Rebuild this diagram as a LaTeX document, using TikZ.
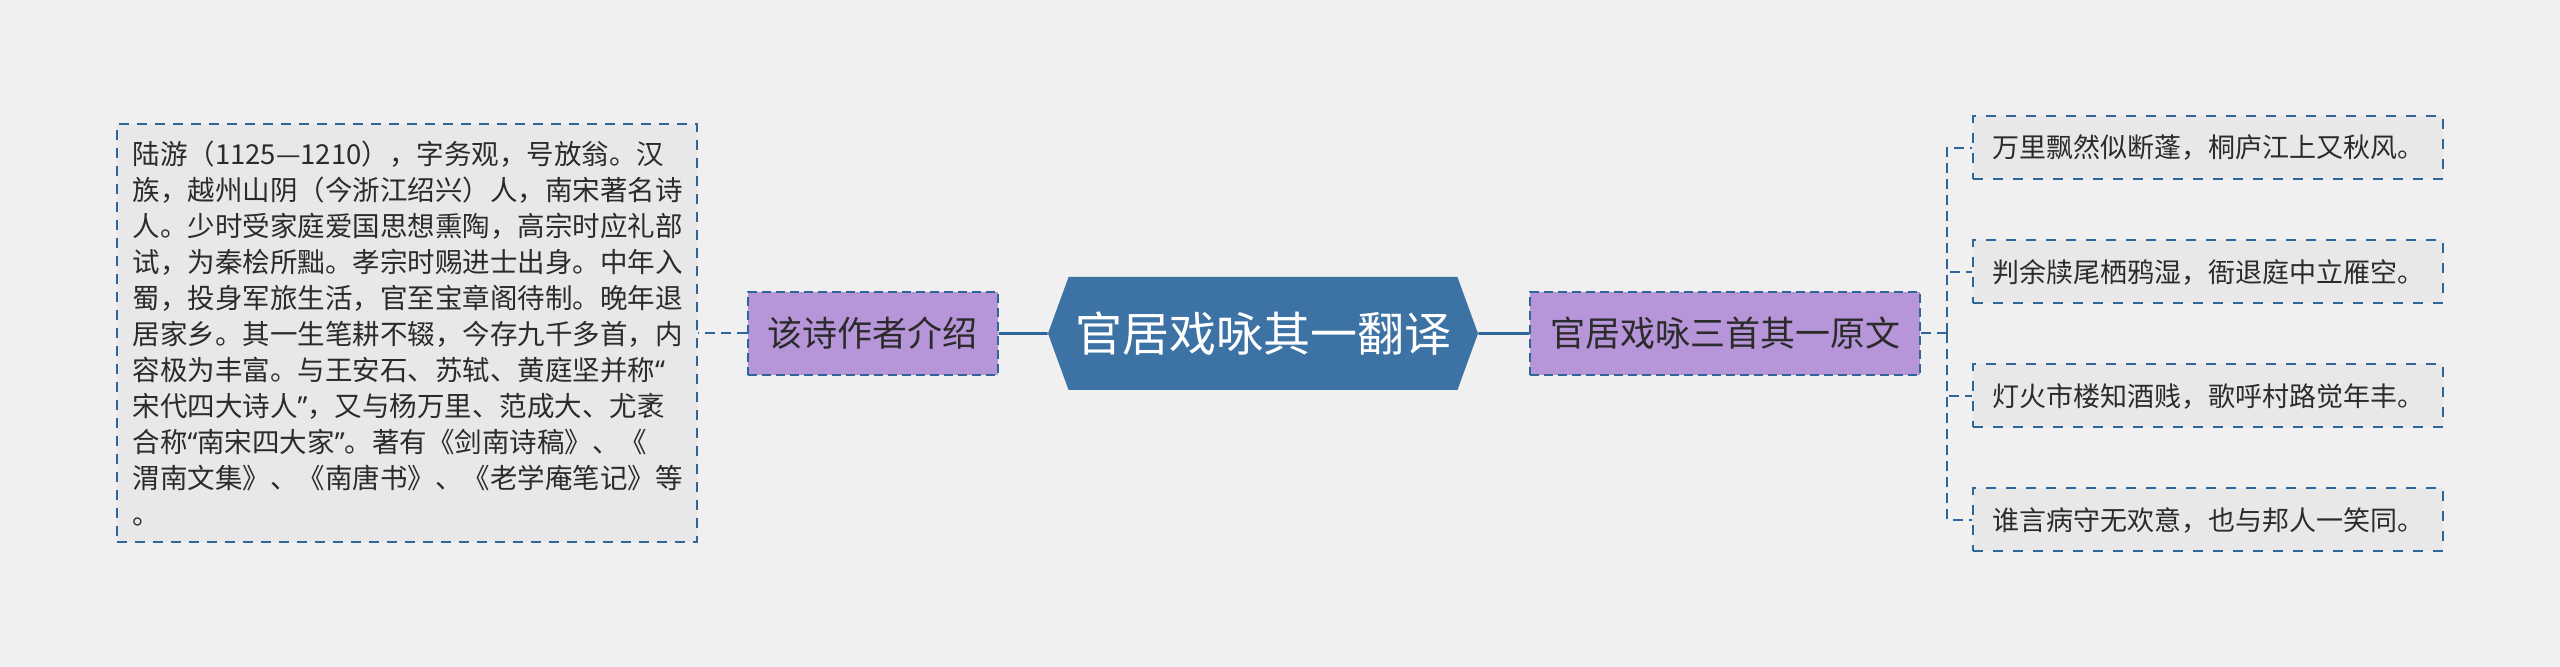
\documentclass[tikz,border=0pt]{standalone}
\usepackage{fontspec}
\usepackage{xcolor}
\usepackage{tikz}
\usetikzlibrary{positioning,shapes.symbols}
\newfontfamily\cjk{Noto Sans CJK SC}
\newfontfamily\latn{Noto Sans}
\newcommand\qopen{{\latn“}}
\newcommand\qclose{{\latn”}}
\definecolor{canvas}{HTML}{F0F0F0}
\definecolor{ink}{HTML}{2B2B2B}
\definecolor{edge}{HTML}{2F6699}
\definecolor{hexblue}{HTML}{3D72A5}
\definecolor{lilac}{HTML}{B795D9}
\definecolor{card}{HTML}{E8E8E8}

\begin{document}
\begin{tikzpicture}[
  x=0.5pt,y=-0.5pt,
  root/.style={shape=signal,signal to=west and east,signal pointer angle=140,fill=hexblue,text=white,font=\cjk\fontsize{23.5}{28}\selectfont,minimum width=215pt,minimum height=56.5pt,inner sep=0pt},
  topic/.style={draw=edge,line width=1pt,dash pattern=on 4.5pt off 2.5pt,fill=lilac,text=ink,font=\cjk\fontsize{17.5}{21}\selectfont,minimum height=41.5pt,inner xsep=10pt},
  verse/.style={draw=edge,line width=1pt,dash pattern=on 5pt off 5pt,fill=card,text=ink,font=\cjk\fontsize{13.5}{16}\selectfont,minimum width=235pt,minimum height=31.5pt},
  bio/.style={draw=edge,line width=1pt,dash pattern=on 5pt off 4pt,fill=card,text=ink,font=\cjk\fontsize{13.75}{18}\selectfont,align=left,text width=274pt,minimum height=209pt,inner xsep=8pt},
  trunk/.style={draw=edge,line width=1.4pt},
  twig/.style={draw=edge,line width=1pt,dash pattern=on 5pt off 3pt}
]
\useasboundingbox[fill=canvas] (0,0) rectangle (2560,667);
\node[root] (root) at (1263,333.5) {官居戏咏其一翻译};
\node[topic,left=24.5pt of root] (author) {该诗作者介绍};
\node[bio,left=24.5pt of author] (bio) {陆游（1125—1210），字务观，号放翁。汉\\族，越州山阴（今浙江绍兴）人，南宋著名诗\\人。少时受家庭爱国思想熏陶，高宗时应礼部\\试，为秦桧所黜。孝宗时赐进士出身。中年入\\蜀，投身军旅生活，官至宝章阁待制。晚年退\\居家乡。其一生笔耕不辍，今存九千多首，内\\容极为丰富。与王安石、苏轼、黄庭坚并称\qopen\\宋代四大诗人\qclose，又与杨万里、范成大、尤袤\\合称\qopen 南宋四大家\qclose。著有《剑南诗稿》、《\\渭南文集》、《南唐书》、《老学庵笔记》等\\。};
\node[topic,right=25.5pt of root] (orig) {官居戏咏三首其一原文};
\coordinate[right=13pt of orig] (fork);
\node[verse,right=25.5pt of orig,yshift=30.75pt] (v2) {判余牍尾栖鸦湿，衙退庭中立雁空。};
\node[verse,above=29.5pt of v2] (v1) {万里飘然似断蓬，桐庐江上又秋风。};
\node[verse,below=29.5pt of v2] (v3) {灯火市楼知酒贱，歌呼村路觉年丰。};
\node[verse,below=29.5pt of v3] (v4) {谁言病守无欢意，也与邦人一笑同。};
\draw[trunk] (root) -- (author);
\draw[twig] (author) -- (bio);
\draw[trunk] (root) -- (orig);
\draw[twig] (orig) -- (fork);
\foreach \v in {v1,v2,v3,v4}
  \draw[twig] (fork) |- (\v);
\end{tikzpicture}
\end{document}
